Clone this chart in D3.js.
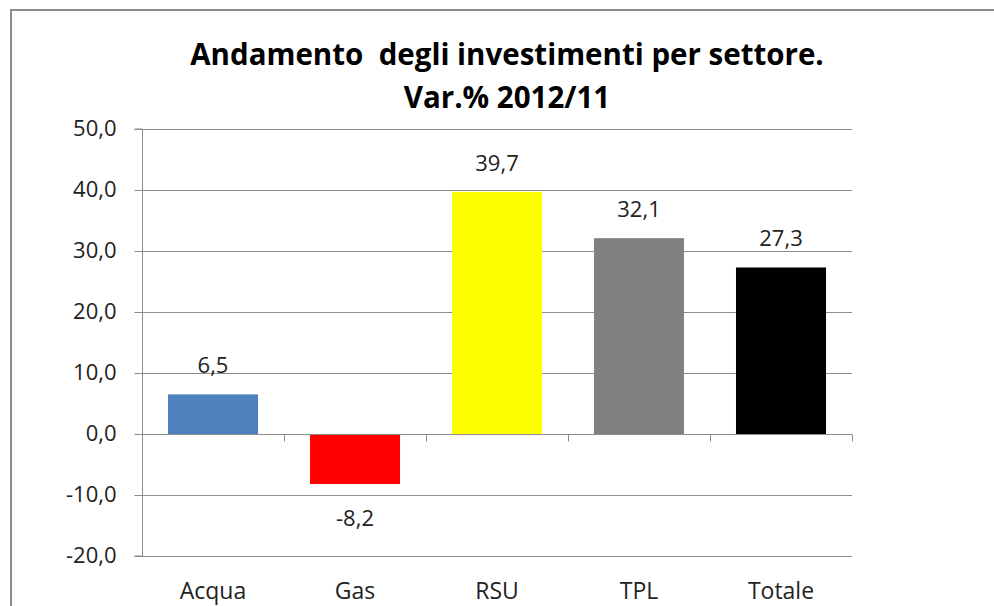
<!DOCTYPE html>
<html>
<head>
<meta charset="utf-8">
<script src="https://cdn.jsdelivr.net/npm/d3@7"></script>
<style>
  body { margin: 0; background: #fff; }
  svg { display: block; font-family: "Open Sans", Lato, sans-serif; }
</style>
</head>
<body>
<svg id="chart" width="994" height="606"></svg>
<script>
const categories = ['Acqua', 'Gas', 'RSU', 'TPL', 'Totale'];
const values = [6.5, -8.2, 39.7, 32.1, 27.3];
const colors = ['#4f81bd', '#ff0000', '#ffff00', '#808080', '#000000'];
const yTicks = [-20, -10, 0, 10, 20, 30, 40, 50];
const titleLines = ['Andamento  degli investimenti per settore.', 'Var.% 2012/11'];

const svg = d3.select('#chart');
const fmt = d => d3.format('.1f')(d).replace('.', ',').replace('−', '-');

// frame
svg.append('path')
  .attr('d', 'M11,606 V10 H994')
  .style('fill', 'none')
  .style('stroke', '#8c8c8c')
  .style('stroke-width', 2);

const plotLeft = 142, plotRight = 852, plotTop = 129, plotBottom = 556;

const x = d3.scaleBand()
  .domain(categories)
  .range([plotLeft, plotRight])
  .paddingInner(0.366)
  .paddingOuter(0.183);

const y = d3.scaleLinear()
  .domain([-20, 50])
  .range([plotBottom, plotTop]);

// title
svg.append('g').selectAll('text')
  .data(titleLines)
  .enter()
  .append('text')
  .attr('x', 507)
  .attr('y', (d, i) => 65 + i * 43)
  .attr('text-anchor', 'middle')
  .style('font-weight', 'bold')
  .style('font-size', '29.5px')
  .style('fill', '#000')
  .style('white-space', 'pre')
  .text(d => d);

// gridlines
svg.append('g').selectAll('line')
  .data(yTicks)
  .enter()
  .append('line')
  .attr('x1', plotLeft)
  .attr('x2', plotRight)
  .attr('y1', d => Math.round(y(d)) + 0.5)
  .attr('y2', d => Math.round(y(d)) + 0.5)
  .style('stroke', '#8c8c8c')
  .style('stroke-width', 1);

// y axis
const yAxis = svg.append('g')
  .attr('transform', `translate(${plotLeft + 0.5}, 0)`)
  .call(d3.axisLeft(y).tickValues(yTicks).tickFormat(fmt).tickSize(8).tickPadding(18).offset(0));
yAxis.select('.domain').style('stroke', '#8c8c8c');
yAxis.selectAll('.tick line').style('stroke', '#8c8c8c')
  .attr('transform', d => `translate(0, ${Math.round(y(d)) + 0.5 - y(d)})`);
yAxis.selectAll('.tick text')
  .style('font-size', '22px')
  .style('fill', '#222')
  .style('font-family', '"Open Sans", sans-serif');

// bars
svg.append('g').selectAll('rect')
  .data(values)
  .enter()
  .append('rect')
  .attr('x', (d, i) => x(categories[i]))
  .attr('width', x.bandwidth())
  .attr('y', d => y(Math.max(0, d)))
  .attr('height', d => Math.abs(y(d) - y(0)))
  .style('fill', (d, i) => colors[i]);

// zero axis with category separators
const zeroY = Math.round(y(0)) + 0.5;
svg.append('line')
  .attr('x1', plotLeft).attr('x2', plotRight)
  .attr('y1', zeroY).attr('y2', zeroY)
  .style('stroke', '#8c8c8c');
const step = x.step();
svg.append('g').selectAll('line')
  .data(categories)
  .enter()
  .append('line')
  .attr('x1', (d, i) => Math.round(plotLeft + step * (i + 1)) + 0.5)
  .attr('x2', (d, i) => Math.round(plotLeft + step * (i + 1)) + 0.5)
  .attr('y1', zeroY)
  .attr('y2', zeroY + 7)
  .style('stroke', '#8c8c8c');

// value labels
svg.append('g').selectAll('text')
  .data(values)
  .enter()
  .append('text')
  .attr('x', (d, i) => x(categories[i]) + x.bandwidth() / 2)
  .attr('y', d => d >= 0 ? y(d) - 21 : y(d) + 42)
  .attr('text-anchor', 'middle')
  .style('font-size', '22px')
  .style('fill', '#222')
  .text(d => fmt(d));

// category labels
svg.append('g').selectAll('text')
  .data(categories)
  .enter()
  .append('text')
  .attr('x', d => x(d) + x.bandwidth() / 2)
  .attr('y', 599)
  .attr('text-anchor', 'middle')
  .style('font-size', '23px')
  .style('fill', '#222')
  .text(d => d);
</script>
</body>
</html>
